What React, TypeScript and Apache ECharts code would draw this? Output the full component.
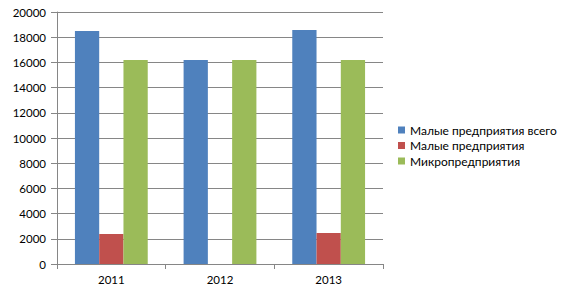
import React, { useEffect, useRef } from "react";
import * as echarts from "echarts";

const categories = ["2011", "2012", "2013"];
const seriesNames = ["Малые предприятия всего", "Малые предприятия", "Микропредприятия"];
const smallTotal = [18500, 16200, 18570];
const smallOnly = [2380, 0, 2460];
const micro = [16200, 16200, 16200];
const colors = ["#4F81BD", "#C0504D", "#9BBB59"];

export default function App() {
  const ref = useRef<HTMLDivElement>(null);
  useEffect(() => {
    const chart = echarts.init(ref.current!, null, { renderer: "svg" });
    const font = "Lato, 'Open Sans', sans-serif";
    const values = [smallTotal, smallOnly, micro];
    chart.setOption({
      animation: false,
      textStyle: { fontFamily: font },
      grid: { left: 57, right: 184, top: 12, bottom: 28, containLabel: false },
      legend: {
        orient: "vertical",
        left: 393,
        top: 119,
        width: 170,
        itemWidth: 7,
        itemHeight: 7,
        itemGap: 3.5,
        icon: "rect",
        textStyle: { fontSize: 12, color: "#000", fontFamily: font, overflow: "none" },
        data: seriesNames,
      },
      xAxis: {
        type: "category",
        data: categories,
        axisLine: { show: true, lineStyle: { color: "#868686" } },
        axisTick: { show: true, length: 5, lineStyle: { color: "#868686" } },
        axisLabel: { fontSize: 11.5, color: "#000", margin: 9, fontFamily: font },
      },
      yAxis: {
        type: "value",
        min: 0,
        max: 20000,
        interval: 2000,
        axisLine: { show: true, lineStyle: { color: "#868686" } },
        axisTick: { show: true, length: 6, lineStyle: { color: "#868686" } },
        axisLabel: {
          fontSize: 11.5,
          color: "#000",
          margin: 11,
          fontFamily: font,
          formatter: (v: number) => String(v),
        },
        splitLine: { show: true, lineStyle: { color: "#868686" } },
      },
      series: seriesNames.map((name, i) => ({
        name,
        type: "bar",
        data: values[i],
        barGap: "0%",
        barCategoryGap: "33%",
        itemStyle: { color: colors[i] },
      })),
    });
    return () => chart.dispose();
  }, []);
  return <div ref={ref} style={{ width: 567, height: 292, margin: -8 }} />;
}
